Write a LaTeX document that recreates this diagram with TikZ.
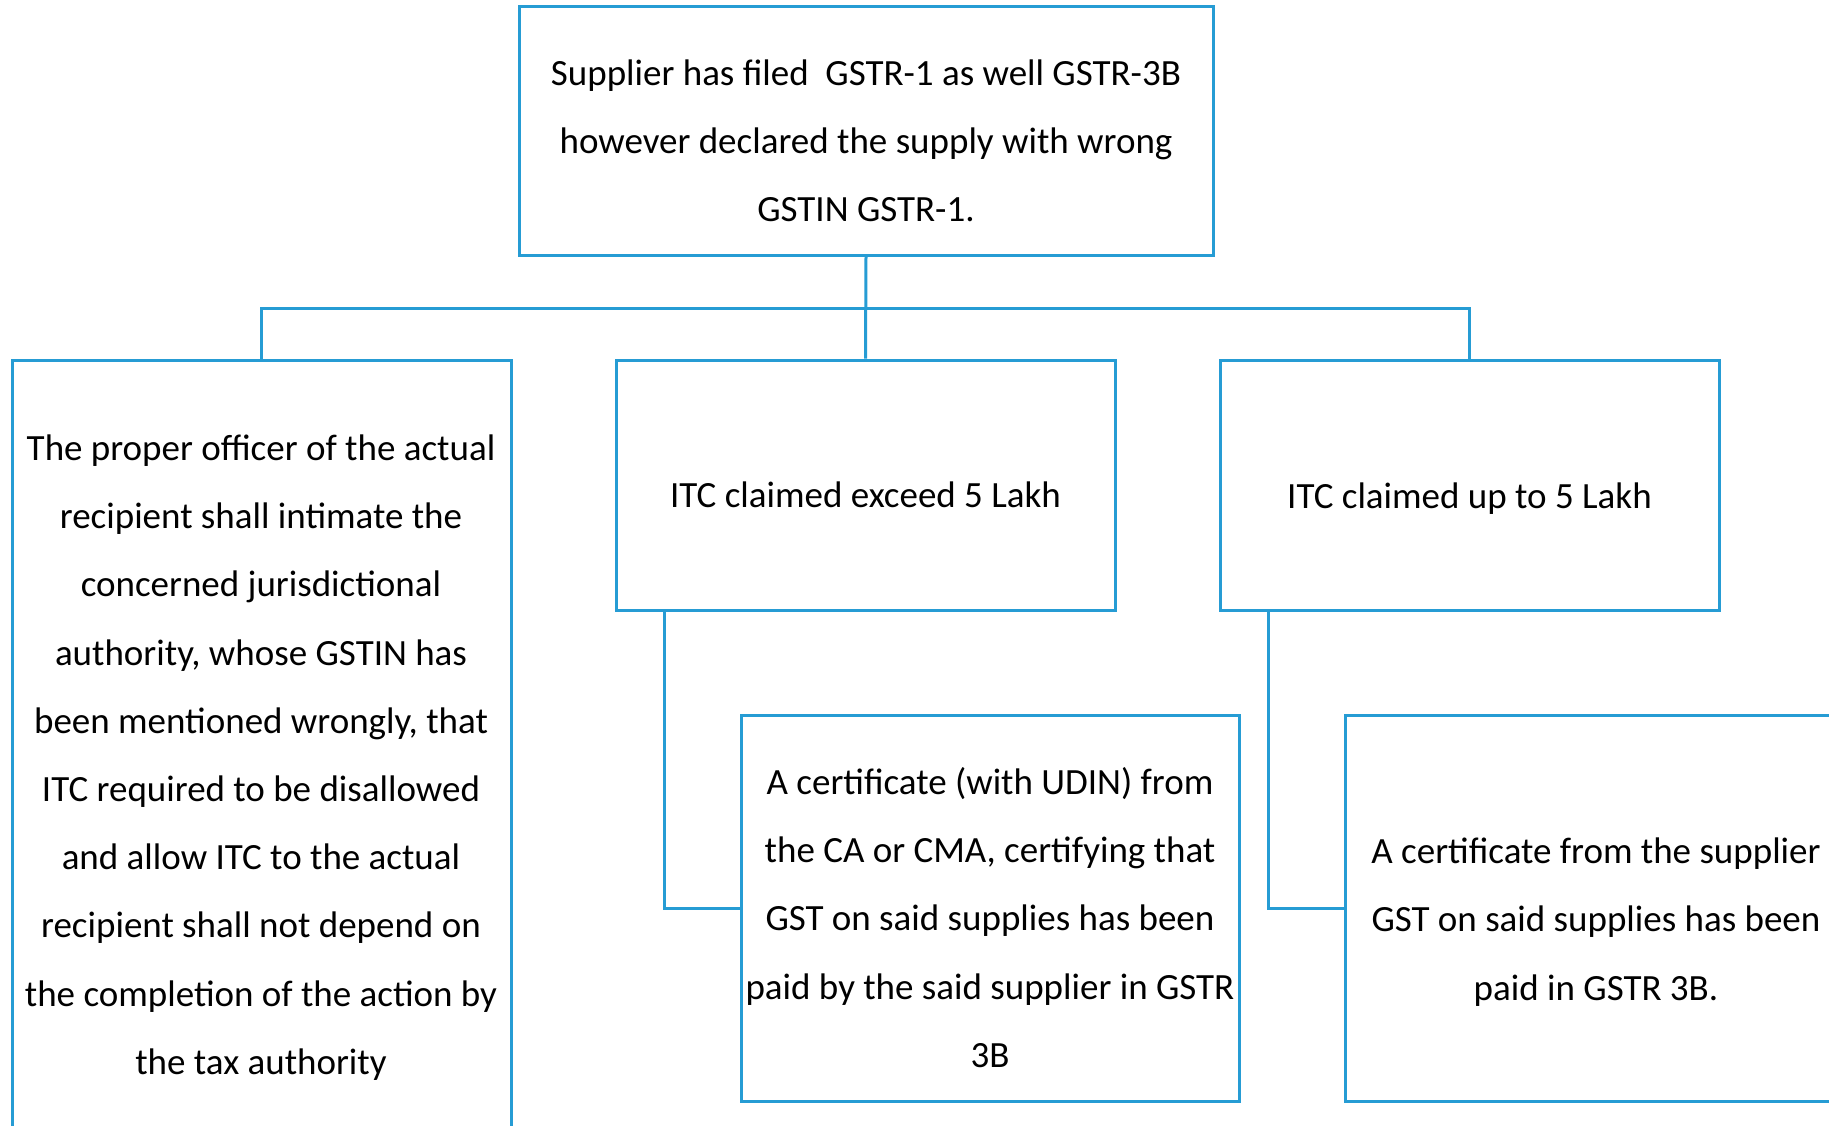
\documentclass[tikz,border=0pt]{standalone}
\usepackage{fontspec}
\setmainfont{Carlito}
\definecolor{boxblue}{RGB}{38,156,212}
\begin{document}
\begin{tikzpicture}[x=1pt,y=-1pt,
  box/.style={draw=boxblue,line width=3pt,rectangle,inner sep=0pt},
  conn/.style={draw=boxblue,line width=3pt},
  txt/.style={align=center,inner sep=0pt,font=\fontsize{37}{68.2}\selectfont}]
\clip (0,0) rectangle (1829,1125);
\fill[white] (0,0) rectangle (1829,1125);
% boxes
\node[box,minimum width=694pt,minimum height=249pt] (top) at (866,130.5) {};
\node[box,minimum width=499pt,minimum height=820pt] (left) at (261.5,770) {};
\node[box,minimum width=499pt,minimum height=250pt] (mid) at (865.5,485) {};
\node[box,minimum width=499pt,minimum height=250pt] (right) at (1469.5,485) {};
\node[box,minimum width=498pt,minimum height=386pt] (midsub) at (990,908) {};
\node[box,minimum width=498pt,minimum height=386pt] (rightsub) at (1594,908) {};
% texts
\node[txt] (toptxt) at (866,140.5) {Supplier has filed\ \ GSTR-1 as well GSTR-3B\\however declared the supply with wrong\\GSTIN GSTR-1.};
\node[txt] (lefttxt) at (261,757.5) {The proper officer of the actual\\recipient shall intimate the\\concerned jurisdictional\\authority, whose GSTIN has\\been mentioned wrongly, that\\ITC required to be disallowed\\and allow ITC to the actual\\recipient shall not depend on\\the completion of the action by\\the tax authority};
\node[txt] (midtxt) at (865.5,495) {ITC claimed exceed 5 Lakh};
\node[txt] (righttxt) at (1469.5,498.5) {ITC claimed up to 5 Lakh};
\node[txt] (midsubtxt) at (990,917.5) {A certificate (with UDIN) from\\the CA or CMA, certifying that\\GST on said supplies has been\\paid by the said supplier in GSTR\\3B};
\node[txt] (rightsubtxt) at (1596,922) {A certificate from the supplier\\GST on said supplies has been\\paid in GSTR 3B.};
% connectors
\coordinate (bus) at (866,308);
\draw[conn] (top.south) -- (mid.north);
\draw[conn] (left.north) |- (bus) -| (right.north);
\draw[conn] ([xshift=50pt]mid.south west) |- (midsub.west);
\draw[conn] ([xshift=50pt]right.south west) |- (rightsub.west);
\end{tikzpicture}
\end{document}
